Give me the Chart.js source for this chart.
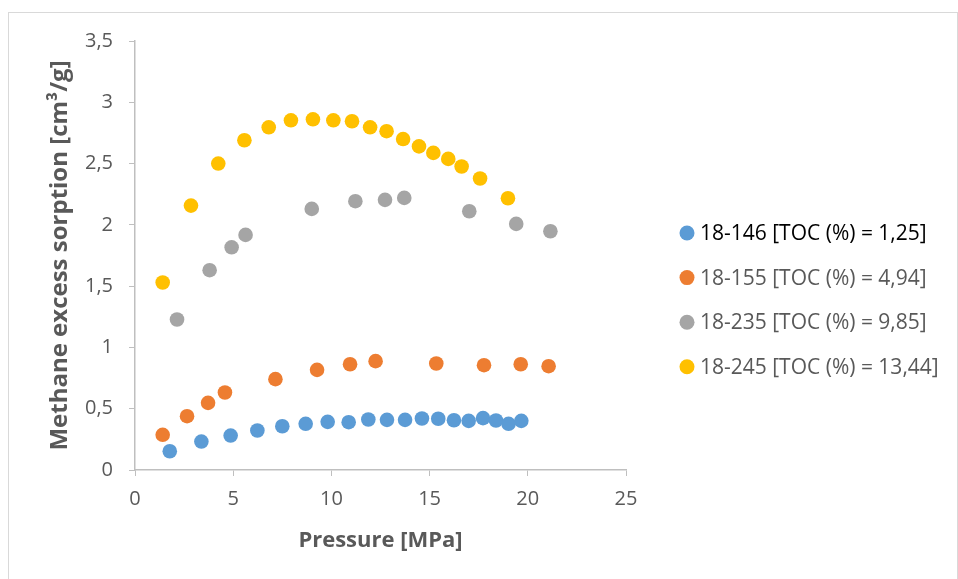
<!DOCTYPE html>
<html>
<head>
<meta charset="utf-8">
<script src="https://cdn.jsdelivr.net/npm/chart.js@4/dist/chart.umd.min.js"></script>
<style>
  html, body { margin: 0; padding: 0; background: #fff; }
  #frame {
    position: absolute; left: 8px; top: 12px; width: 948px; height: 600px;
    border: 1.5px solid #d9d9d9; border-bottom: none;
  }
  #graph1 { position: absolute; left: 0; top: 0; }
</style>
</head>
<body>
<div id="frame"></div>
<canvas id="graph1" width="958" height="579"></canvas>
<script>
// sample names
var labels = [
    "18-146 [TOC (%) = 1,25]",
    "18-155 [TOC (%) = 4,94]",
    "18-235 [TOC (%) = 9,85]",
    "18-245 [TOC (%) = 13,44]"
];

// pressure (MPa) and excess sorption (cm3/g) for each sample
var p146 = [1.77, 3.38, 4.87, 6.23, 7.50, 8.69, 9.81, 10.88, 11.88, 12.83, 13.75, 14.61, 15.44, 16.24, 16.99, 17.72, 18.38, 19.02, 19.67];
var s146 = [0.153, 0.232, 0.281, 0.322, 0.357, 0.377, 0.393, 0.390, 0.412, 0.409, 0.409, 0.420, 0.418, 0.406, 0.401, 0.423, 0.404, 0.377, 0.401];

var p155 = [1.41, 2.65, 3.72, 4.58, 7.15, 9.27, 10.95, 12.25, 15.34, 17.77, 19.64, 21.06];
var s155 = [0.287, 0.439, 0.548, 0.632, 0.741, 0.817, 0.863, 0.888, 0.869, 0.855, 0.863, 0.847];

var p235 = [2.14, 3.80, 4.92, 5.63, 9.00, 11.22, 12.73, 13.71, 17.02, 19.41, 21.15];
var s235 = [1.228, 1.630, 1.817, 1.918, 2.130, 2.193, 2.204, 2.220, 2.111, 2.008, 1.948];

var p245 = [1.41, 2.85, 4.24, 5.57, 6.81, 7.94, 9.06, 10.10, 11.05, 11.97, 12.81, 13.65, 14.46, 15.19, 15.95, 16.63, 17.57, 18.99];
var s245 = [1.530, 2.157, 2.500, 2.690, 2.796, 2.853, 2.861, 2.853, 2.845, 2.796, 2.764, 2.700, 2.640, 2.587, 2.538, 2.476, 2.378, 2.217];

var colors = ['#5B9BD5', '#ED7D31', '#A5A5A5', '#FFC000'];

function toPoints(xs, ys) {
    let pts = [];
    for (let i = 0; i < xs.length; i++) {
        pts.push({x: xs[i], y: ys[i]});
    }
    return pts;
}

function comma(v) {
    return (v + "").replace(".", ",");
}

var series = [toPoints(p146, s146), toPoints(p155, s155), toPoints(p235, s235), toPoints(p245, s245)];
var datasets = [];
for (let i = 0; i < series.length; i++) {
    datasets.push({
        label: labels[i],
        data: series[i],
        backgroundColor: colors[i],
        borderColor: colors[i],
        pointRadius: 7.3,
        pointHoverRadius: 7.3,
        pointBorderWidth: 0
    });
}

// legend on the right, drawn by hand so it sits where we want
const sideLegend = {
    id: 'sideLegend',
    afterDraw(chart) {
        const ctx = chart.ctx;
        ctx.save();
        ctx.font = '21px "Open Sans"';
        ctx.textBaseline = 'middle';
        chart.data.datasets.forEach((ds, i) => {
            const y = 233 + i * 44.6;
            ctx.fillStyle = ds.backgroundColor;
            ctx.beginPath();
            ctx.arc(687, y, 7.5, 0, Math.PI * 2);
            ctx.fill();
            ctx.fillStyle = i === 0 ? '#000000' : '#595959';
            ctx.fillText(ds.label, 700, y + 1);
        });
        ctx.restore();
    }
};

Chart.defaults.font.family = '"Open Sans", sans-serif';
Chart.defaults.color = '#595959';

let graph1 = document.getElementById('graph1').getContext('2d');
const myChart = new Chart(graph1, {
    type: 'scatter',
    data: { datasets: datasets },
    plugins: [sideLegend],
    options: {
        responsive: false,
        animation: false,
        layout: { padding: { left: 0, top: 41, right: 332, bottom: 0 } },
        plugins: {
            legend: { display: false },
            tooltip: { enabled: false }
        },
        scales: {
            x: {
                min: 0,
                max: 25,
                afterFit: function(scale) { scale.height = 109; },
                ticks: { stepSize: 5, padding: 11, font: { size: 20 }, color: '#595959' },
                grid: { drawOnChartArea: false, tickLength: 6, color: '#bfbfbf' },
                border: { color: '#bfbfbf', width: 1.5 },
                title: {
                    display: true,
                    text: 'Pressure [MPa]',
                    font: { size: 22, weight: 'bold' },
                    color: '#595959',
                    padding: { top: 0, bottom: 25 }
                }
            },
            y: {
                min: 0,
                max: 3.5,
                afterFit: function(scale) { scale.width = 135; },
                ticks: {
                    stepSize: 0.5, padding: 16, font: { size: 20 }, color: '#595959',
                    callback: function(value) { return comma(value); }
                },
                grid: { drawOnChartArea: false, tickLength: 6, color: '#bfbfbf' },
                border: { color: '#bfbfbf', width: 1.5 },
                title: {
                    display: true,
                    text: 'Methane excess sorption [cm³/g]',
                    font: { size: 24, weight: 'bold' },
                    color: '#595959',
                    padding: { top: 46, bottom: 0 }
                }
            }
        }
    }
});
</script>
</body>
</html>
